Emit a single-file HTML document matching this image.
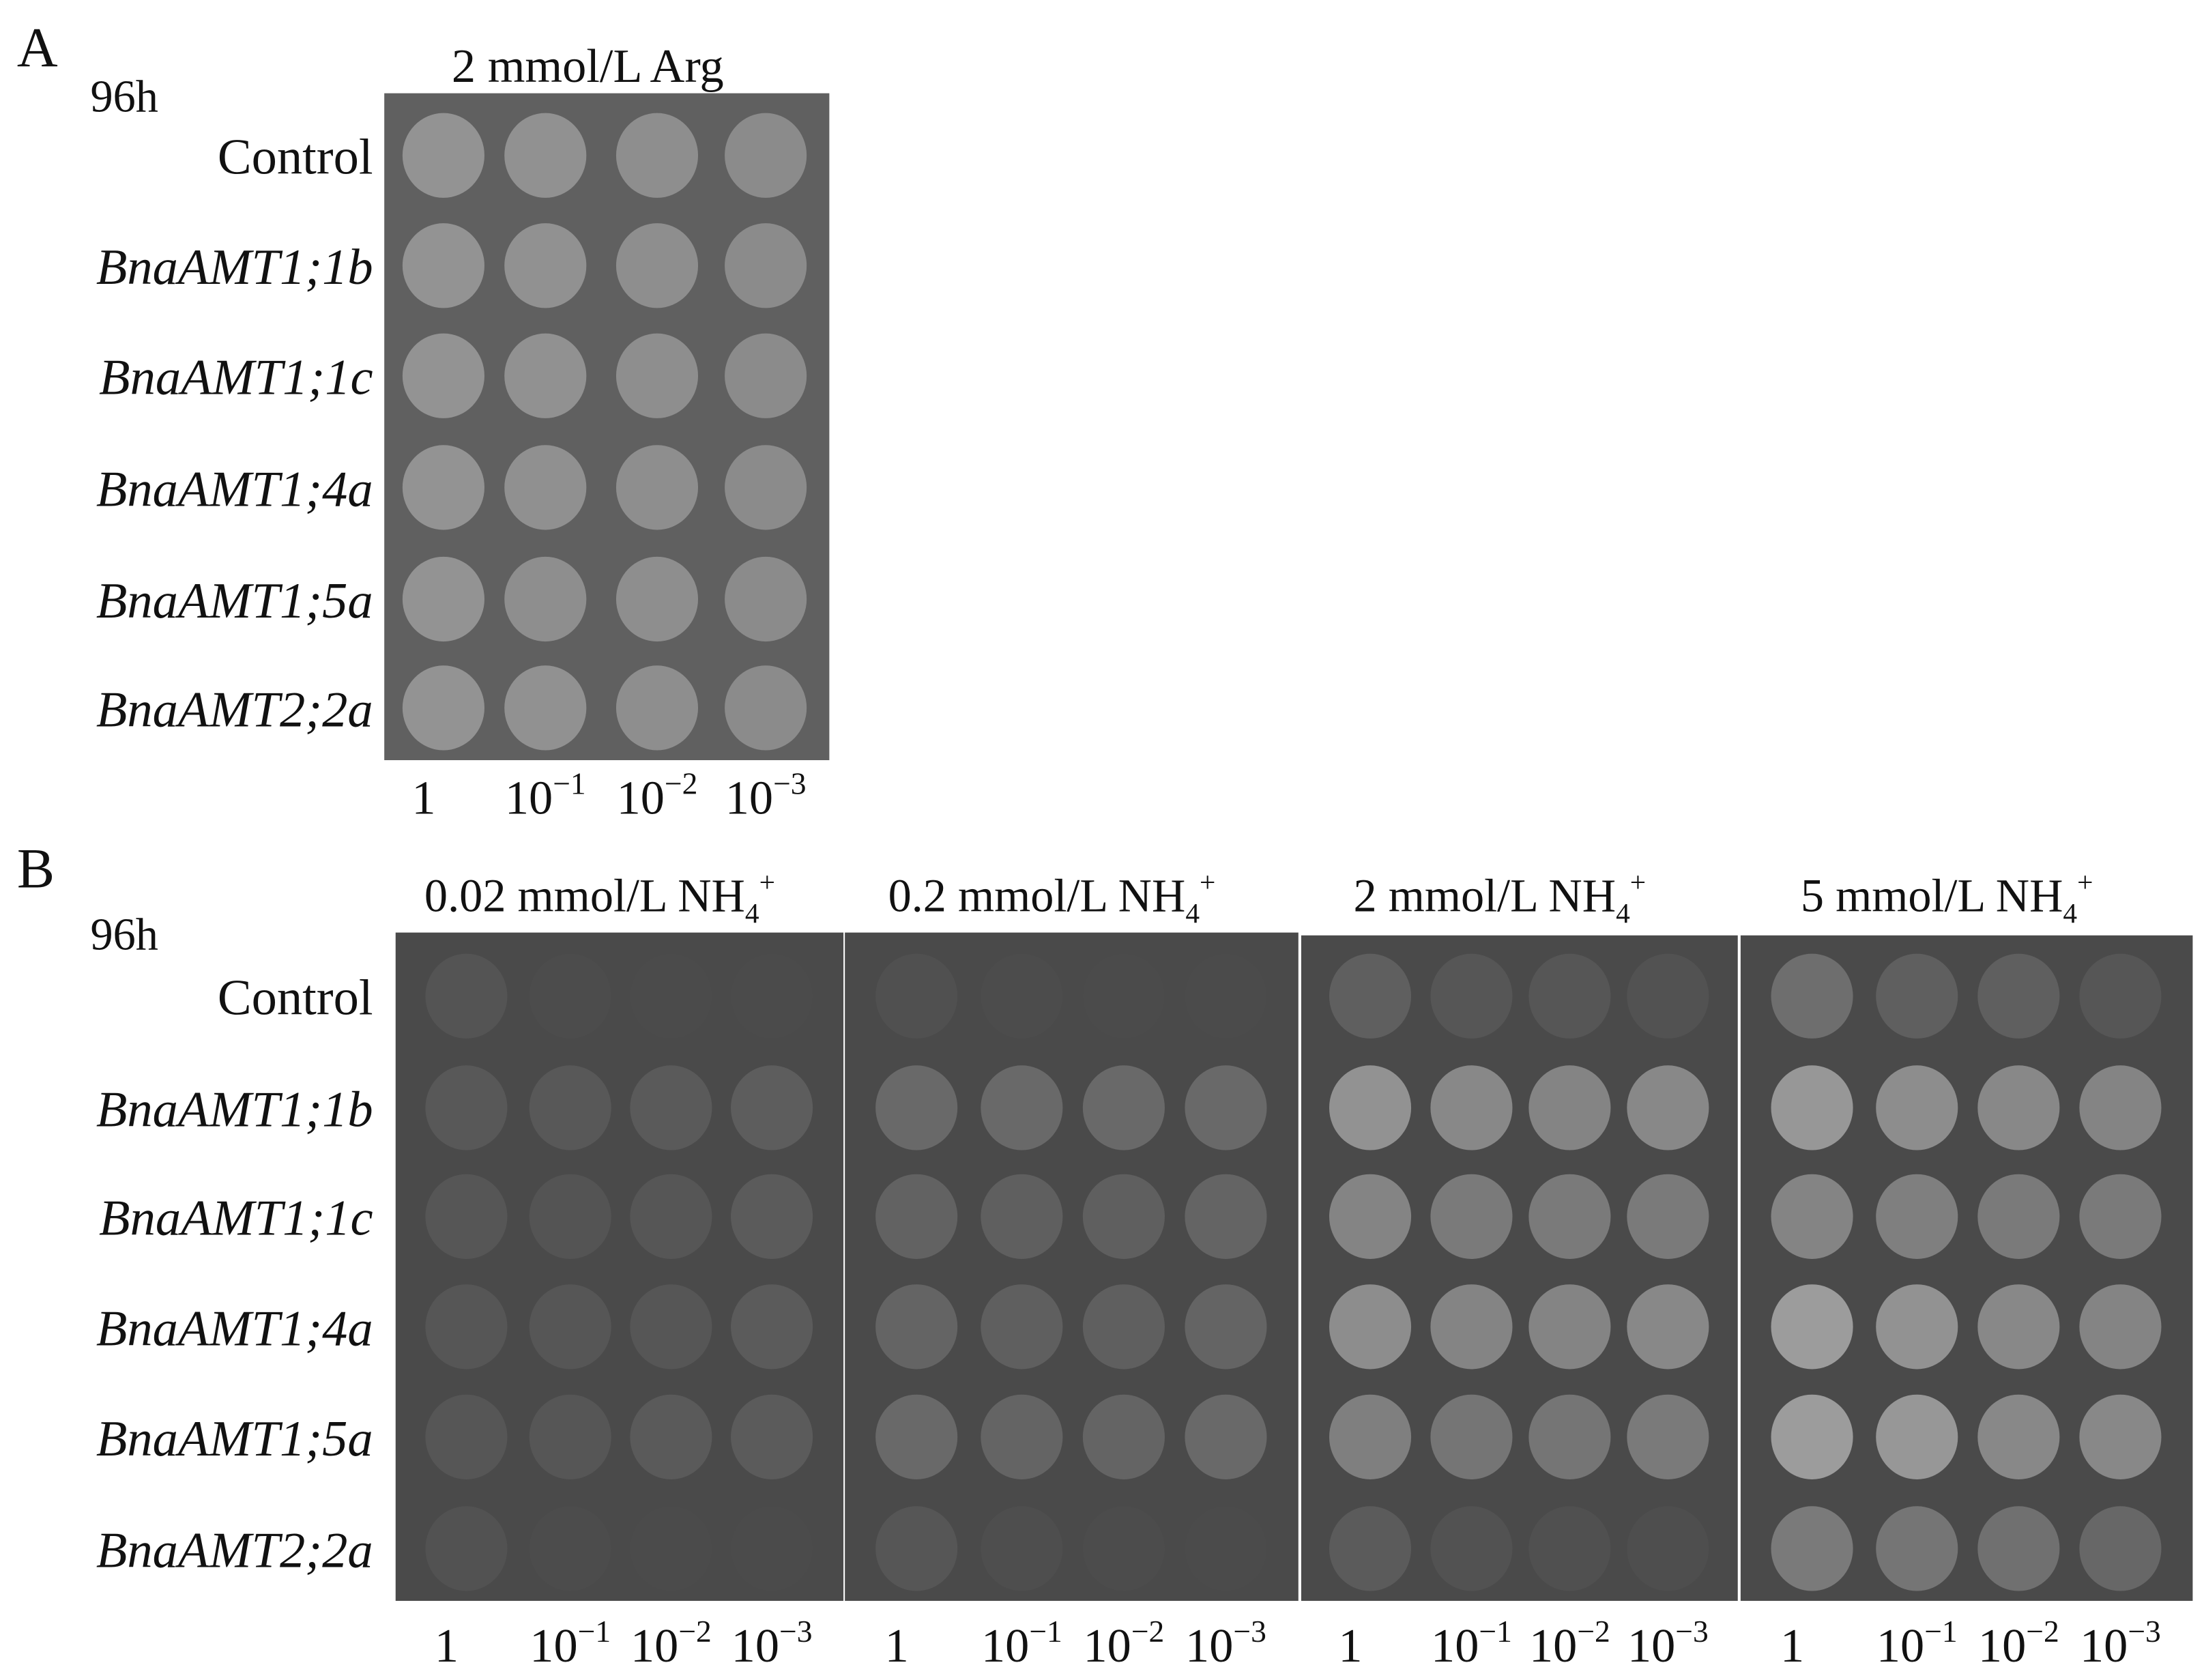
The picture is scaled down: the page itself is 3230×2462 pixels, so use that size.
<!DOCTYPE html>
<html><head><meta charset="utf-8"><style>
html,body{margin:0;padding:0;background:#fff;}
svg{display:block;}
text{font-family:"Liberation Serif",serif;fill:#111;}
</style></head><body>
<svg id="fig" width="3230" height="2462" viewBox="0 0 1560 1189" preserveAspectRatio="none" xmlns="http://www.w3.org/2000/svg">
<g id="g"></g>
</svg>
<script>
const NS="http://www.w3.org/2000/svg";
const strains=["Control","BnaAMT1;1b","BnaAMT1;1c","BnaAMT1;4a","BnaAMT1;5a","BnaAMT2;2a"];
const dilutions=["1","10","10","10"];
const dilExp=["","−1","−2","−3"];
const panelATitle="2 mmol/L Arg";
const panelBTitles=["0.02 mmol/L NH","0.2 mmol/L NH","2 mmol/L NH","5 mmol/L NH"];
const growthA=[[0.95,0.9,0.85,0.8],[0.95,0.9,0.85,0.8],[0.95,0.9,0.85,0.8],[0.95,0.88,0.85,0.8],[0.95,0.85,0.85,0.8],[0.95,0.9,0.85,0.8]];
const growthB1=[[0.1,0.02,0.01,0.01],[0.15,0.15,0.17,0.2],[0.12,0.1,0.12,0.18],[0.12,0.12,0.12,0.18],[0.12,0.12,0.17,0.18],[0.08,0.02,0.01,0.01]];
const growthB2=[[0.06,0.02,0.01,0.01],[0.32,0.32,0.32,0.32],[0.25,0.22,0.22,0.27],[0.27,0.22,0.22,0.27],[0.32,0.27,0.27,0.32],[0.12,0.04,0.02,0.01]];
const growthB3=[[0.22,0.12,0.12,0.08],[0.75,0.65,0.6,0.65],[0.6,0.5,0.5,0.5],[0.7,0.6,0.6,0.65],[0.55,0.45,0.45,0.5],[0.18,0.08,0.06,0.04]];
const growthB4=[[0.38,0.22,0.22,0.12],[0.8,0.7,0.65,0.6],[0.6,0.55,0.5,0.5],[0.85,0.75,0.65,0.6],[0.85,0.8,0.65,0.65],[0.5,0.45,0.4,0.3]];
const growthB=[growthB1,growthB2,growthB3,growthB4];

const g=document.getElementById('g');
function el(t,a,parent){const e=document.createElementNS(NS,t);for(const k in a)e.setAttribute(k,a[k]);(parent||g).appendChild(e);return e;}
function mix(a,b,t){return Math.round(a+(b-a)*t);}
function gray(v){return `rgb(${v},${v},${v})`;}
function txt(x,y,s,size,anchor,italic){const t=el('text',{x:x,y:y,'font-size':size,'text-anchor':anchor||'start'});if(italic)t.setAttribute('font-style','italic');t.textContent=s;return t;}
const colFracA=[0.133,0.362,0.613,0.857];
const colFracB=[0.158,0.39,0.615,0.84];
function plate(x0,x1,y0,y1,rows,data,bg,spot,name,cf){
  const r=el('rect',{x:x0,y:y0,width:x1-x0,height:y1-y0,fill:gray(bg)});
  
  
  data.forEach((row,i)=>row.forEach((v,j)=>{
    const c=el('ellipse',{cx:x0+(x1-x0)*cf[j],cy:rows[i],rx:29,ry:30,fill:gray(mix(bg,spot,v))});
    
    
  }));
}
function dilLabels(x0,x1,y,name,cf){
  dilutions.forEach((d,j)=>{
    const t=txt(x0+(x1-x0)*cf[j]+(j?0:-14),y,'',34,'middle');
    
    
    const a=el('tspan',{},t);a.textContent=d;
    if(dilExp[j]){const b=el('tspan',{dy:-14,'font-size':22},t);b.textContent=dilExp[j];}
  });
}
// Panel A
let t=txt(12,47,'A',40);
t=txt(64,79,'96h',32);
t=txt(416,58,panelATitle,34,'middle');
const rowsA=[110,188,266,345,424,501];
plate(272,587,66,538,rowsA,growthA,96,150,'plate-a',colFracA);
strains.forEach((s,i)=>{const tt=txt(264,rowsA[i]+13,s,36,'end',i>0);});
dilLabels(272,587,576,'panel-a',colFracA);
// Panel B
t=txt(12,628,'B',40);
t=txt(64,672,'96h',32);
const rowsB=[705,784,861,939,1017,1096];
const platesB=[[280,597,660],[598,919,660],[921,1230,662],[1232,1552,662]];
platesB.forEach((p,k)=>{
  plate(p[0],p[1],p[2],1133,rowsB,growthB[k],74,170,'plate-b'+(k+1),colFracB);
  const tt=txt((p[0]+p[1])/2-14,645,'',33,'middle');
  
  
  const a=el('tspan',{},tt);a.textContent=panelBTitles[k];
  const b=el('tspan',{dy:8,'font-size':20},tt);b.textContent='4';
  const c=el('tspan',{dy:-22,'font-size':20},tt);c.textContent='+';
  dilLabels(p[0],p[1],1176,'panel-b'+(k+1),colFracB);
});
strains.forEach((s,i)=>{const tt=txt(264,rowsB[i]+13,s,36,'end',i>0);});
</script>
</body></html>
